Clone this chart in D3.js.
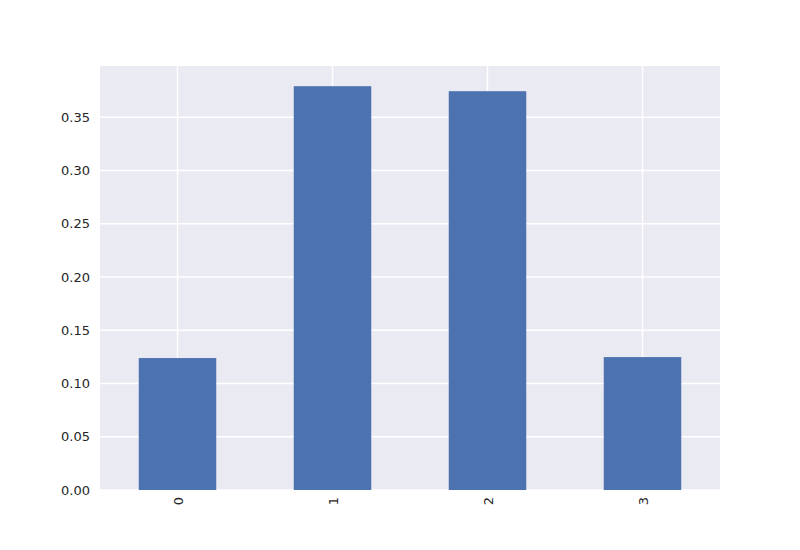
<!DOCTYPE html>
<html lang="en">
<head>
    <meta charset="UTF-8">
    <title>Bar chart</title>
    <script src="https://d3js.org/d3.v7.min.js"></script>
    <style>
        body { margin: 0; background: #fff; }
        svg { display: block; }
        .tick text { font-family: "DejaVu Sans", sans-serif; font-size: 13px; fill: #262626; }
        .grid line { stroke: #fff; stroke-width: 1.4px; }
    </style>
</head>
<body>
    <svg width="800" height="550"></svg>
    <script>
        // values
        const categories = ["0", "1", "2", "3"];
        const values = [0.1239, 0.3792, 0.3745, 0.1248];
        const yTicks = [0, 0.05, 0.10, 0.15, 0.20, 0.25, 0.30, 0.35];

        const width = 800, height = 550;
        const margin = { top: 66, right: 80, bottom: 60, left: 100 };
        const innerW = width - margin.left - margin.right;
        const innerH = height - margin.top - margin.bottom;

        const svg = d3.select("svg");
        const g = svg.append("g")
            .attr("transform", `translate(${margin.left},${margin.top})`);

        // x like pandas: bars of width 0.5 on integer positions, limits -0.5..n-0.5
        const x = d3.scaleLinear()
            .domain([-0.5, categories.length - 0.5])
            .range([0, innerW]);
        const y = d3.scaleLinear()
            .domain([0, d3.max(values) * 1.05])
            .range([innerH, 0]);

        g.append("rect")
            .attr("width", innerW)
            .attr("height", innerH)
            .attr("fill", "#EAEAF2");

        // grid
        g.append("g").attr("class", "grid")
            .selectAll("line.h")
            .data(yTicks)
            .enter().append("line")
            .attr("x1", 0).attr("x2", innerW)
            .attr("y1", d => y(d)).attr("y2", d => y(d));
        g.append("g").attr("class", "grid")
            .selectAll("line.v")
            .data(categories)
            .enter().append("line")
            .attr("y1", 0).attr("y2", innerH)
            .attr("x1", (d, i) => x(i)).attr("x2", (d, i) => x(i));

        // bars
        g.selectAll(".bar")
            .data(values)
            .enter().append("rect")
            .attr("class", "bar")
            .attr("x", (d, i) => x(i - 0.25))
            .attr("width", x(0.25) - x(-0.25))
            .attr("y", d => y(d))
            .attr("height", d => innerH - y(d))
            .attr("fill", "#4C72B0");

        // y axis
        const yAxis = g.append("g")
            .call(d3.axisLeft(y).tickValues(yTicks).tickFormat(d3.format(".2f"))
                .tickSize(0).tickPadding(10));
        yAxis.select(".domain").remove();

        // x axis with rotated labels
        const xAxis = g.append("g")
            .attr("transform", `translate(0,${innerH})`)
            .call(d3.axisBottom(x).tickValues(d3.range(categories.length))
                .tickFormat(i => categories[i]).tickSize(0));
        xAxis.select(".domain").remove();
        xAxis.selectAll("text")
            .attr("transform", "rotate(-90)")
            .attr("text-anchor", "end")
            .attr("x", -7)
            .attr("y", 0)
            .attr("dy", "0.35em");
    </script>
</body>
</html>
